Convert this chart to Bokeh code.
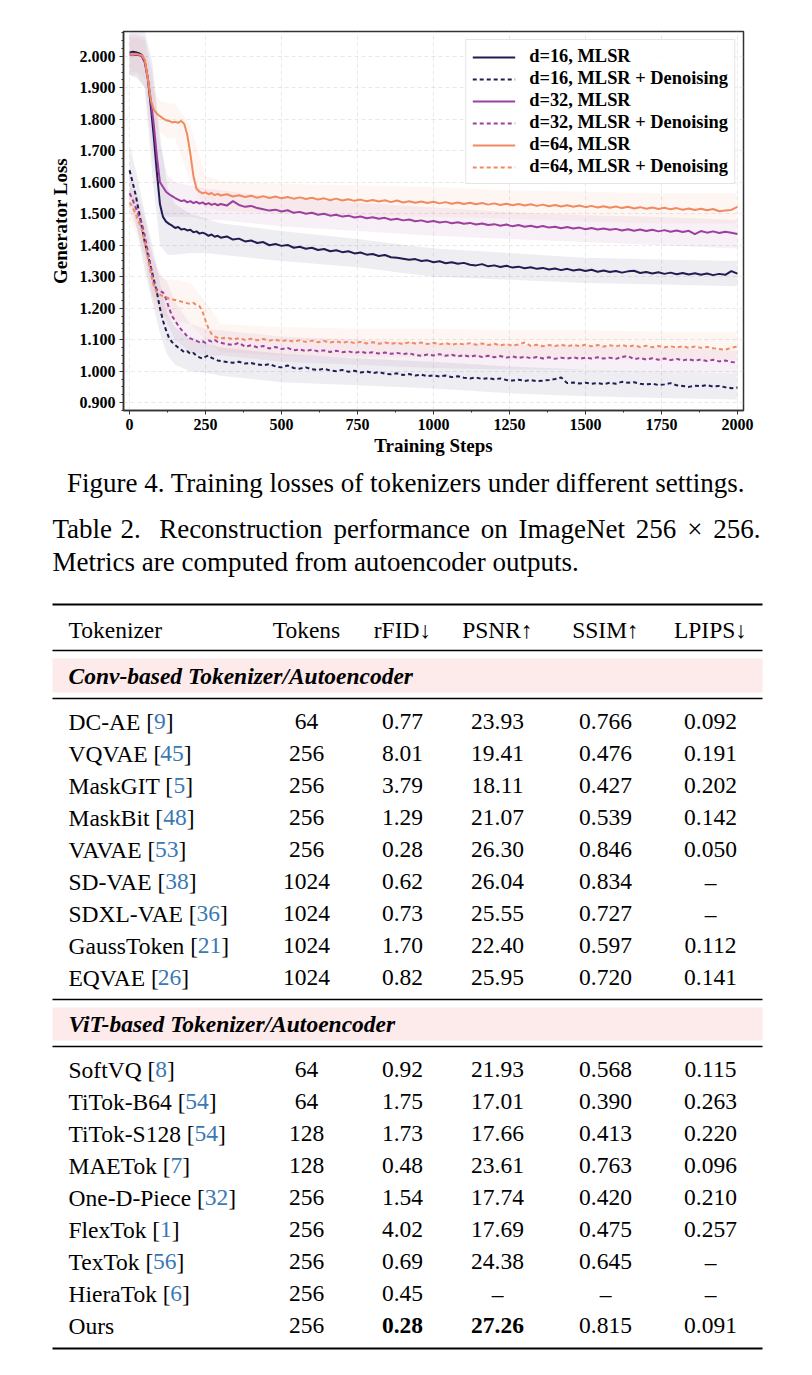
from bokeh.plotting import figure
from bokeh.models import Range1d, SingleIntervalTicker, NumeralTickFormatter
from bokeh.layouts import column
from bokeh.embed import file_html
from bokeh.resources import INLINE
from bokeh.core.properties import value

# ---------------- chart data ----------------
steps = list(range(0, 300, 10)) + list(range(300, 2001, 20))

d16_mlsr = [
    2.012, 2.015, 2.013, 2.010, 2.005, 1.985, 1.930, 1.840, 1.740, 1.630,
    1.530, 1.490, 1.475, 1.468, 1.462, 1.455, 1.458, 1.450, 1.452, 1.447,
    1.449, 1.441, 1.444, 1.437, 1.440, 1.436, 1.430, 1.434, 1.427, 1.430,
    1.424, 1.428, 1.418, 1.421, 1.412, 1.415, 1.407, 1.410, 1.400, 1.404,
    1.398, 1.401, 1.392, 1.395, 1.389, 1.392, 1.385, 1.388, 1.381, 1.384,
    1.378, 1.381, 1.374, 1.377, 1.370, 1.372, 1.366, 1.369, 1.362, 1.360,
    1.357, 1.354, 1.356, 1.350, 1.352, 1.346, 1.349, 1.343, 1.346, 1.341,
    1.344, 1.338, 1.336, 1.340, 1.333, 1.336, 1.331, 1.335, 1.329, 1.332,
    1.327, 1.330, 1.325, 1.328, 1.323, 1.326, 1.321, 1.325, 1.320, 1.323,
    1.318, 1.322, 1.316, 1.320, 1.315, 1.318, 1.313, 1.317, 1.319, 1.312,
    1.315, 1.310, 1.314, 1.309, 1.313, 1.308, 1.312, 1.307, 1.311, 1.306,
    1.310, 1.305, 1.309, 1.306, 1.318, 1.310]
d16_den = [
    1.638, 1.600, 1.560, 1.510, 1.460, 1.410, 1.370, 1.330, 1.290, 1.250,
    1.200, 1.160, 1.130, 1.105, 1.092, 1.083, 1.075, 1.068, 1.060, 1.063,
    1.055, 1.058, 1.049, 1.044, 1.040, 1.046, 1.050, 1.042, 1.038, 1.034,
    1.032, 1.029, 1.027, 1.030, 1.024, 1.026, 1.021, 1.019, 1.022, 1.015,
    1.012, 1.018, 1.010, 1.008, 1.012, 1.006, 1.004, 1.008, 1.002, 1.000,
    1.004, 0.998, 1.001, 0.996, 0.999, 0.994, 0.997, 0.992, 0.990, 0.993,
    0.988, 0.991, 0.986, 0.989, 0.984, 0.987, 0.983, 0.986, 0.981, 0.984,
    0.979, 0.977, 0.980, 0.975, 0.978, 0.974, 0.977, 0.972, 0.970, 0.973,
    0.969, 0.972, 0.968, 0.970, 0.972, 0.975, 0.980, 0.962, 0.964, 0.961,
    0.963, 0.960, 0.962, 0.959, 0.963, 0.960, 0.966, 0.963, 0.965, 0.960,
    0.958, 0.960, 0.956, 0.958, 0.962, 0.955, 0.953, 0.950, 0.954, 0.952,
    0.956, 0.951, 0.953, 0.949, 0.946, 0.948]
d32_mlsr = [
    2.005, 2.006, 2.004, 2.005, 2.000, 1.980, 1.930, 1.860, 1.780, 1.680,
    1.600, 1.585, 1.570, 1.562, 1.556, 1.550, 1.545, 1.540, 1.543, 1.536,
    1.540, 1.534, 1.538, 1.532, 1.536, 1.530, 1.534, 1.528, 1.532, 1.527,
    1.531, 1.526, 1.540, 1.528, 1.522, 1.525, 1.518, 1.514, 1.510, 1.513,
    1.507, 1.511, 1.503, 1.506, 1.500, 1.503, 1.497, 1.500, 1.494, 1.497,
    1.491, 1.494, 1.488, 1.491, 1.486, 1.489, 1.484, 1.487, 1.481, 1.484,
    1.479, 1.482, 1.476, 1.479, 1.474, 1.477, 1.472, 1.475, 1.470, 1.473,
    1.468, 1.471, 1.466, 1.469, 1.464, 1.467, 1.462, 1.466, 1.460, 1.464,
    1.459, 1.462, 1.457, 1.461, 1.456, 1.459, 1.454, 1.458, 1.453, 1.456,
    1.451, 1.455, 1.450, 1.453, 1.449, 1.452, 1.447, 1.451, 1.446, 1.450,
    1.445, 1.449, 1.444, 1.448, 1.443, 1.447, 1.442, 1.446, 1.435, 1.445,
    1.440, 1.444, 1.439, 1.443, 1.440, 1.436]
d32_den = [
    1.565, 1.545, 1.520, 1.495, 1.470, 1.430, 1.380, 1.330, 1.280, 1.258,
    1.255, 1.250, 1.230, 1.200, 1.175, 1.160, 1.145, 1.132, 1.122, 1.110,
    1.104, 1.100, 1.096, 1.092, 1.095, 1.090, 1.098, 1.094, 1.099, 1.093,
    1.090, 1.086, 1.083, 1.090, 1.078, 1.082, 1.076, 1.080, 1.072, 1.077,
    1.070, 1.074, 1.066, 1.069, 1.064, 1.068, 1.063, 1.066, 1.061, 1.065,
    1.060, 1.063, 1.058, 1.062, 1.057, 1.060, 1.056, 1.059, 1.055, 1.058,
    1.054, 1.057, 1.051, 1.049, 1.053, 1.050, 1.054, 1.049, 1.052, 1.047,
    1.051, 1.046, 1.050, 1.045, 1.049, 1.044, 1.048, 1.043, 1.047, 1.042,
    1.046, 1.041, 1.045, 1.040, 1.044, 1.039, 1.043, 1.040, 1.044, 1.039,
    1.043, 1.040, 1.044, 1.040, 1.043, 1.039, 1.045, 1.048, 1.038, 1.042,
    1.037, 1.041, 1.036, 1.040, 1.035, 1.039, 1.034, 1.038, 1.033, 1.037,
    1.032, 1.036, 1.031, 1.034, 1.029, 1.027]
d64_mlsr = [
    2.008, 2.007, 2.008, 2.006, 2.004, 1.990, 1.930, 1.860, 1.830, 1.818,
    1.810, 1.803, 1.797, 1.795, 1.790, 1.792, 1.789, 1.795, 1.785, 1.750,
    1.690, 1.620, 1.580, 1.570, 1.565, 1.568, 1.562, 1.566, 1.559, 1.563,
    1.558, 1.562, 1.555, 1.559, 1.553, 1.557, 1.551, 1.556, 1.550, 1.555,
    1.549, 1.553, 1.548, 1.552, 1.547, 1.551, 1.545, 1.549, 1.543, 1.548,
    1.542, 1.546, 1.541, 1.545, 1.540, 1.544, 1.539, 1.543, 1.537, 1.542,
    1.536, 1.540, 1.535, 1.539, 1.534, 1.538, 1.533, 1.537, 1.532, 1.536,
    1.531, 1.535, 1.530, 1.534, 1.529, 1.533, 1.528, 1.532, 1.527, 1.531,
    1.526, 1.530, 1.525, 1.529, 1.524, 1.528, 1.523, 1.527, 1.522, 1.526,
    1.521, 1.525, 1.520, 1.524, 1.519, 1.523, 1.518, 1.522, 1.517, 1.521,
    1.516, 1.520, 1.515, 1.519, 1.514, 1.518, 1.513, 1.517, 1.512, 1.516,
    1.511, 1.515, 1.508, 1.510, 1.512, 1.522]
d64_den = [
    1.536, 1.520, 1.500, 1.475, 1.450, 1.410, 1.360, 1.310, 1.270, 1.248,
    1.243, 1.238, 1.235, 1.230, 1.228, 1.226, 1.224, 1.221, 1.219, 1.216,
    1.214, 1.217, 1.210, 1.206, 1.190, 1.160, 1.135, 1.118, 1.110, 1.106,
    1.104, 1.107, 1.101, 1.105, 1.099, 1.103, 1.098, 1.102, 1.097, 1.100,
    1.095, 1.099, 1.094, 1.098, 1.093, 1.097, 1.092, 1.096, 1.091, 1.095,
    1.090, 1.094, 1.089, 1.093, 1.088, 1.092, 1.087, 1.091, 1.087, 1.090,
    1.086, 1.092, 1.088, 1.091, 1.086, 1.090, 1.085, 1.089, 1.084, 1.088,
    1.085, 1.089, 1.084, 1.088, 1.083, 1.087, 1.082, 1.086, 1.081, 1.085,
    1.091, 1.080, 1.084, 1.079, 1.083, 1.080, 1.084, 1.079, 1.083, 1.080,
    1.084, 1.079, 1.083, 1.078, 1.082, 1.079, 1.083, 1.078, 1.082, 1.077,
    1.081, 1.076, 1.080, 1.076, 1.079, 1.075, 1.079, 1.074, 1.078, 1.074,
    1.077, 1.073, 1.070, 1.068, 1.074, 1.078]

# spread bands (lower / upper) on a coarse grid
band_steps = [0, 25, 50, 75, 100, 125, 150, 200, 250, 300, 500, 750, 1000, 1250, 1500, 1750, 2000]
d16_mlsr_hi = [2.09, 2.09, 2.08, 1.98, 1.75, 1.58, 1.53, 1.50, 1.485, 1.47, 1.445, 1.42, 1.39, 1.375, 1.36, 1.355, 1.35]
d16_mlsr_lo = [1.94, 1.93, 1.90, 1.62, 1.40, 1.37, 1.37, 1.375, 1.375, 1.37, 1.35, 1.33, 1.30, 1.29, 1.28, 1.275, 1.27]
d16_den_hi = [1.72, 1.62, 1.50, 1.40, 1.28, 1.18, 1.14, 1.10, 1.09, 1.075, 1.055, 1.04, 1.03, 1.015, 1.005, 1.0, 0.99]
d16_den_lo = [1.56, 1.45, 1.32, 1.22, 1.12, 1.05, 1.02, 1.0, 0.995, 0.985, 0.965, 0.955, 0.945, 0.93, 0.92, 0.915, 0.91]
d32_mlsr_hi = [2.07, 2.07, 2.06, 1.95, 1.72, 1.62, 1.60, 1.59, 1.58, 1.575, 1.55, 1.535, 1.52, 1.505, 1.495, 1.49, 1.48]
d32_mlsr_lo = [1.94, 1.94, 1.90, 1.70, 1.50, 1.49, 1.49, 1.49, 1.48, 1.48, 1.46, 1.445, 1.43, 1.42, 1.41, 1.40, 1.39]
d32_den_hi = [1.62, 1.56, 1.49, 1.37, 1.31, 1.28, 1.22, 1.15, 1.135, 1.13, 1.11, 1.10, 1.09, 1.085, 1.08, 1.075, 1.065]
d32_den_lo = [1.51, 1.45, 1.37, 1.24, 1.20, 1.15, 1.10, 1.06, 1.05, 1.05, 1.03, 1.02, 1.01, 1.005, 1.005, 1.0, 0.99]
d64_mlsr_hi = [2.06, 2.06, 2.05, 1.90, 1.86, 1.85, 1.85, 1.78, 1.62, 1.605, 1.595, 1.59, 1.585, 1.575, 1.57, 1.565, 1.565]
d64_mlsr_lo = [1.95, 1.95, 1.93, 1.78, 1.76, 1.74, 1.74, 1.60, 1.52, 1.51, 1.50, 1.495, 1.49, 1.485, 1.475, 1.47, 1.47]
d64_den_hi = [1.59, 1.54, 1.47, 1.36, 1.30, 1.29, 1.29, 1.28, 1.22, 1.15, 1.14, 1.135, 1.135, 1.13, 1.13, 1.125, 1.125]
d64_den_lo = [1.48, 1.43, 1.35, 1.22, 1.18, 1.17, 1.16, 1.15, 1.10, 1.06, 1.05, 1.045, 1.045, 1.04, 1.04, 1.035, 1.035]

series_labels = ["d=16, MLSR", "d=16, MLSR + Denoising", "d=32, MLSR",
                 "d=32, MLSR + Denoising", "d=64, MLSR", "d=64, MLSR + Denoising"]
series_values = [d16_mlsr, d16_den, d32_mlsr, d32_den, d64_mlsr, d64_den]
series_hi = [d16_mlsr_hi, d16_den_hi, d32_mlsr_hi, d32_den_hi, d64_mlsr_hi, d64_den_hi]
series_lo = [d16_mlsr_lo, d16_den_lo, d32_mlsr_lo, d32_den_lo, d64_mlsr_lo, d64_den_lo]

# ---------------- table data ----------------
conv_names = ["DC-AE", "VQVAE", "MaskGIT", "MaskBit", "VAVAE", "SD-VAE", "SDXL-VAE", "GaussToken", "EQVAE"]
conv_cites = ["9", "45", "5", "48", "53", "38", "36", "21", "26"]
conv_tokens = ["64", "256", "256", "256", "256", "1024", "1024", "1024", "1024"]
conv_rfid = ["0.77", "8.01", "3.79", "1.29", "0.28", "0.62", "0.73", "1.70", "0.82"]
conv_psnr = ["23.93", "19.41", "18.11", "21.07", "26.30", "26.04", "25.55", "22.40", "25.95"]
conv_ssim = ["0.766", "0.476", "0.427", "0.539", "0.846", "0.834", "0.727", "0.597", "0.720"]
conv_lpips = ["0.092", "0.191", "0.202", "0.142", "0.050", "–", "–", "0.112", "0.141"]

vit_names = ["SoftVQ", "TiTok-B64", "TiTok-S128", "MAETok", "One-D-Piece", "FlexTok", "TexTok", "HieraTok", "Ours"]
vit_cites = ["8", "54", "54", "7", "32", "1", "56", "6", ""]
vit_tokens = ["64", "64", "128", "128", "256", "256", "256", "256", "256"]
vit_rfid = ["0.92", "1.75", "1.73", "0.48", "1.54", "4.02", "0.69", "0.45", "0.28"]
vit_psnr = ["21.93", "17.01", "17.66", "23.61", "17.74", "17.69", "24.38", "–", "27.26"]
vit_ssim = ["0.568", "0.390", "0.413", "0.763", "0.420", "0.475", "0.645", "–", "0.815"]
vit_lpips = ["0.115", "0.263", "0.220", "0.096", "0.210", "0.257", "–", "–", "0.091"]

header = ["Tokenizer", "Tokens", "rFID↓", "PSNR↑", "SSIM↑", "LPIPS↓"]
sections = ["Conv-based Tokenizer/Autoencoder", "ViT-based Tokenizer/Autoencoder"]

fig_caption = "Figure 4. Training losses of tokenizers under different settings."
tab_caption_words = ["Table", "2.", "Reconstruction", "performance", "on", "ImageNet", "256", "×", "256."]
tab_caption_line2 = "Metrics are computed from autoencoder outputs."

# ---------------- styles ----------------
SERIF = "Liberation Serif"
colors = ["#221c52", "#221c52", "#9c3f9e", "#9c3f9e", "#f18a60", "#f18a60"]
dashes = ["solid", "4 3", "solid", "4 3", "solid", "4 3"]
CITE = "#3a78b5"
PINK = "#fdeaea"

CH = 460  # chart height (page px)

# ---------------- chart ----------------
p = figure(width=812, height=CH, x_range=Range1d(-20, 2020), y_range=Range1d(0.875, 2.079),
           output_backend="svg", toolbar_location=None,
           min_border_left=123, min_border_right=69, min_border_top=31, min_border_bottom=50)
p.frame_align = False

for i in range(6):
    p.varea(x=band_steps, y1=series_lo[i], y2=series_hi[i], fill_color=colors[i], fill_alpha=0.08)
for i in range(6):
    p.line(steps, series_values[i], line_color=colors[i], line_width=2.0,
           line_dash=dashes[i], legend_label=series_labels[i])

p.xaxis.ticker = SingleIntervalTicker(interval=250, num_minor_ticks=2)
p.yaxis.ticker = SingleIntervalTicker(interval=0.1, num_minor_ticks=4)
p.xgrid.ticker = SingleIntervalTicker(interval=250)
p.ygrid.ticker = SingleIntervalTicker(interval=0.1)
p.yaxis.formatter = NumeralTickFormatter(format="0.000")
p.xaxis.axis_label = "Training Steps"
p.yaxis.axis_label = "Generator Loss"
for ax in (p.xaxis, p.yaxis):
    ax.axis_label_text_font = SERIF
    ax.axis_label_text_font_style = "bold"
    ax.axis_label_text_font_size = "19px"
    ax.axis_label_text_color = "#000000"
    ax.major_label_text_font = SERIF
    ax.major_label_text_font_style = "bold"
    ax.major_label_text_font_size = "16px"
    ax.major_label_text_color = "#000000"
    ax.axis_line_color = "#333333"
    ax.axis_line_width = 1.5
    ax.major_tick_line_color = "#333333"
    ax.minor_tick_line_color = "#333333"
    ax.major_tick_out = 4
    ax.major_tick_in = 0
    ax.minor_tick_out = 2
    ax.minor_tick_in = 0
    ax.major_label_standoff = 4
p.xaxis.axis_label_standoff = 2
p.yaxis.axis_label_standoff = 6
p.grid.grid_line_color = "#d0d0d0"
p.grid.grid_line_alpha = 0.6
p.grid.grid_line_dash = "4 3"
p.grid.grid_line_width = 0.8
p.outline_line_color = "#333333"
p.outline_line_width = 1.5
p.outline_line_alpha = 1.0

lg = p.legend[0]
lg.location = "top_right"
lg.margin = 8
lg.padding = 6
lg.spacing = 1
lg.label_height = 20
lg.glyph_height = 20
lg.glyph_width = 43
lg.label_standoff = 14
lg.label_text_font = SERIF
lg.label_text_font_style = "bold"
lg.label_text_font_size = "18.4px"
lg.label_text_color = "#000000"
lg.border_line_color = "#cccccc"
lg.border_line_width = 1
lg.background_fill_alpha = 0.85

# ---------------- caption + table ----------------
TOP = CH
H2 = 1372 - CH
t = figure(width=812, height=H2, x_range=Range1d(0, 812), y_range=Range1d(TOP + H2, TOP),
           output_backend="svg", toolbar_location=None, x_axis_type=None, y_axis_type=None,
           min_border=0)
t.frame_align = False
t.grid.visible = False
t.outline_line_color = None

AFM = {' ': 250, '-': 333, '[': 333, ']': 333, '.': 250, ',': 250, '×': 564, '/': 278}
for ch in "0123456789":
    AFM[ch] = 500
AFM.update(dict(zip("ABCDEFGHIJKLMNOPQRSTUVWXYZ",
                    [722, 667, 667, 722, 611, 556, 722, 722, 333, 389, 722, 611, 889,
                     722, 722, 556, 722, 667, 556, 611, 722, 722, 944, 722, 722, 611])))
AFM.update(dict(zip("abcdefghijklmnopqrstuvwxyz",
                    [444, 500, 444, 500, 444, 333, 500, 500, 278, 278, 500, 278, 778,
                     500, 500, 500, 500, 333, 389, 278, 500, 500, 722, 500, 500, 444])))
KERN = {"AV": -135, "VA": -135, "To": -80, "Te": -70, "Ti": -35, "QV": -40}


def tw(s, size):
    w = sum(AFM.get(c, 500) for c in s)
    w += sum(KERN.get(s[k:k + 2], 0) for k in range(len(s) - 1))
    return w / 1000.0 * size


def txt(xs, ys, texts, size, align="left", color="#000000", style="normal"):
    t.text(x=xs, y=ys, text=texts, text_font=value(SERIF), text_font_size=value(f"{size}px"),
           text_align=align, text_baseline="middle", text_color=color, text_font_style=style)


CAP = 27
txt([405.5], [482], [fig_caption], CAP, align="center")

# justified first line of the table caption
L, R = 52, 760
widths = [tw(w, CAP) for w in tab_caption_words]
weights = [0.6, 1.7] + [1.0] * (len(tab_caption_words) - 3)
unit = (R - L - sum(widths)) / sum(weights)
xs, xcur = [], L
for k, w in enumerate(tab_caption_words):
    xs.append(xcur)
    xcur += widths[k] + (weights[k] * unit if k < len(weights) else 0)
txt(xs, [528] * len(xs), tab_caption_words, CAP)
txt([L], [561], [tab_caption_line2], CAP)

FS = 23.5
X0 = 68
col_x = [306, 402, 497, 605, 710]
RL, RR = 52, 762

# rules
thick = [604, 1348]
thin = [650, 698, 999, 1046]
t.segment(x0=[RL] * 2, y0=thick, x1=[RR] * 2, y1=thick, line_color="#000000", line_width=2.2)
t.segment(x0=[RL] * 4, y0=thin, x1=[RR] * 4, y1=thin, line_color="#000000", line_width=1.5)

# section bands
band_top = [658, 1007]
band_bot = [692, 1040]
t.quad(left=[RL] * 2, right=[RR] * 2, top=band_top, bottom=band_bot, fill_color=PINK, line_color=None)
txt([X0, X0], [675, 1023], sections, FS, style="bold italic")

# header
txt([X0], [629], [header[0]], FS)
txt(col_x, [629] * 5, header[1:], FS, align="center")


def draw_rows(y0, names, cites, tokens, rfid, psnr, ssim, lpips, bold_cells=()):
    ys = [y0 + 32 * k for k in range(len(names))]
    pre = [n + " [" if c else n for n, c in zip(names, cites)]
    txt([X0] * len(names), ys, pre, FS)
    cx, cy, ct, bx, by = [], [], [], [], []
    for n, c, y in zip(names, cites, ys):
        if c:
            base = X0 + tw(n + " [", FS)
            cx.append(base)
            ct.append(c)
            cy.append(y)
            bx.append(base + tw(c, FS))
            by.append(y)
    txt(cx, cy, ct, FS, color=CITE)
    txt(bx, by, ["]"] * len(bx), FS)
    cols = [tokens, rfid, psnr, ssim, lpips]
    for j, colv in enumerate(cols):
        nx, ny, nt, bxx, byy, btt = [], [], [], [], [], []
        for k, v in enumerate(colv):
            if (k, j) in bold_cells:
                bxx.append(col_x[j]); byy.append(ys[k]); btt.append(v)
            else:
                nx.append(col_x[j]); ny.append(ys[k]); nt.append(v)
        txt(nx, ny, nt, FS, align="center")
        if btt:
            txt(bxx, byy, btt, FS, align="center", style="bold")


draw_rows(721, conv_names, conv_cites, conv_tokens, conv_rfid, conv_psnr, conv_ssim, conv_lpips)
draw_rows(1069, vit_names, vit_cites, vit_tokens, vit_rfid, vit_psnr, vit_ssim, vit_lpips,
          bold_cells={(8, 1), (8, 2)})

layout = column(p, t)
open("out.html", "w").write(file_html(layout, INLINE))
